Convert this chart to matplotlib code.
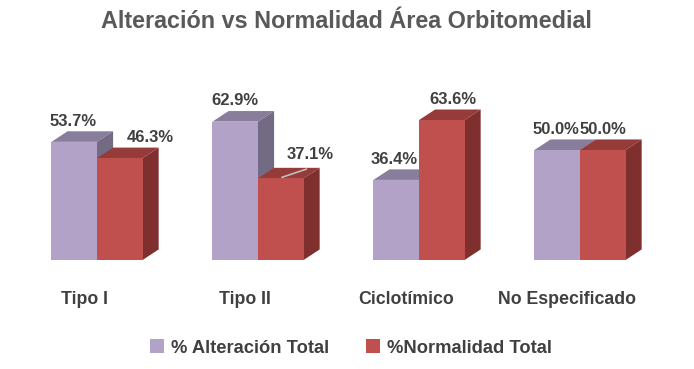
import matplotlib

matplotlib.use("Agg")
import matplotlib.pyplot as plt
import numpy as np
from matplotlib.patches import Patch, Polygon

categories = ["Tipo I", "Tipo II", "Ciclotímico", "No Especificado"]
series_names = ["% Alteración Total", "%Normalidad Total"]
alteracion = [53.7, 62.9, 36.4, 50.0]
normalidad = [46.3, 37.1, 63.6, 50.0]

# front / top / side shades for the fake 3D look
PURPLE = ("#B3A2C7", "#887D9A", "#736A84")
RED = ("#C0504D", "#953C3A", "#7F302E")
TEXT = "#404040"
FONT = "Liberation Sans"

W = 0.283      # bar width in category units
DX = 0.10      # depth offset, x
DY = 4.8       # depth offset, y (percent units)


def draw_bar3d(ax, x0, h, shades):
    front, top, side = shades
    ax.bar(x0, h, width=W, align="edge", color=front, linewidth=0, zorder=2)
    ax.add_patch(Polygon([(x0, h), (x0 + DX, h + DY), (x0 + W + DX, h + DY), (x0 + W, h)],
                         closed=True, facecolor=top, edgecolor="none", zorder=1))
    ax.add_patch(Polygon([(x0 + W, 0), (x0 + W + DX, DY), (x0 + W + DX, h + DY), (x0 + W, h)],
                         closed=True, facecolor=side, edgecolor="none", zorder=1))


fig = plt.figure(figsize=(6.94, 3.69), dpi=100)
ax = fig.add_axes([16.5 / 694, 109 / 369, 644 / 694, 220 / 369])
ax.set_xlim(-0.5, 3.5)
ax.set_ylim(0, 100)

xs = np.arange(len(categories))
# manual nudges for a few labels (x in category units)
label_dx = [[-0.01, 0.19], [0.0, 0.18], [-0.01, 0.07], [-0.01, 0.0]]
label_dy = [[0.0, 0.0], [0.0, 1.5], [0.0, 0.0], [0.0, 0.0]]
for i, x in enumerate(xs):
    for j, (vals, shades) in enumerate(((alteracion, PURPLE), (normalidad, RED))):
        x0 = x - W + j * W
        h = vals[i]
        draw_bar3d(ax, x0, h, shades)
        ax.text(x0 + W / 2 + label_dx[i][j], h + DY + 4.6 + label_dy[i][j], f"{h:.1f}%",
                ha="center", va="center", fontsize=12, fontweight="bold",
                color=TEXT, family=FONT, zorder=5)

# leader line for the shifted 37.1% label
ax.plot([1 + 0.15, 1 + 0.30], [37.1 + 0.5, 37.1 + 4.2], color="#BFBFBF", lw=1.2, zorder=4)

ax.set_xticks(xs - 0.08)
ax.set_xticklabels(categories, fontsize=12.8, fontweight="bold", color=TEXT, family=FONT)
ax.tick_params(axis="x", length=0, pad=22)
ax.set_yticks([])
for s in ax.spines.values():
    s.set_visible(False)
ax.patch.set_visible(False)

fig.text(0.499, 1 - 22 / 369, "Alteración vs Normalidad Área Orbitomedial",
         ha="center", va="center", fontsize=16.8, fontweight="bold", color="#595959", family=FONT)

handles = [Patch(facecolor=PURPLE[0]), Patch(facecolor=RED[0])]
leg = fig.legend(handles, series_names, loc="center", bbox_to_anchor=(0.506, 1 - 348 / 369),
                 ncol=2, frameon=False, handlelength=0.75, handleheight=0.75,
                 handletextpad=0.4, columnspacing=2.0,
                 prop={"family": FONT, "weight": "bold", "size": 13.2})
for t in leg.get_texts():
    t.set_color(TEXT)

fig.savefig("out.png", dpi=100)
